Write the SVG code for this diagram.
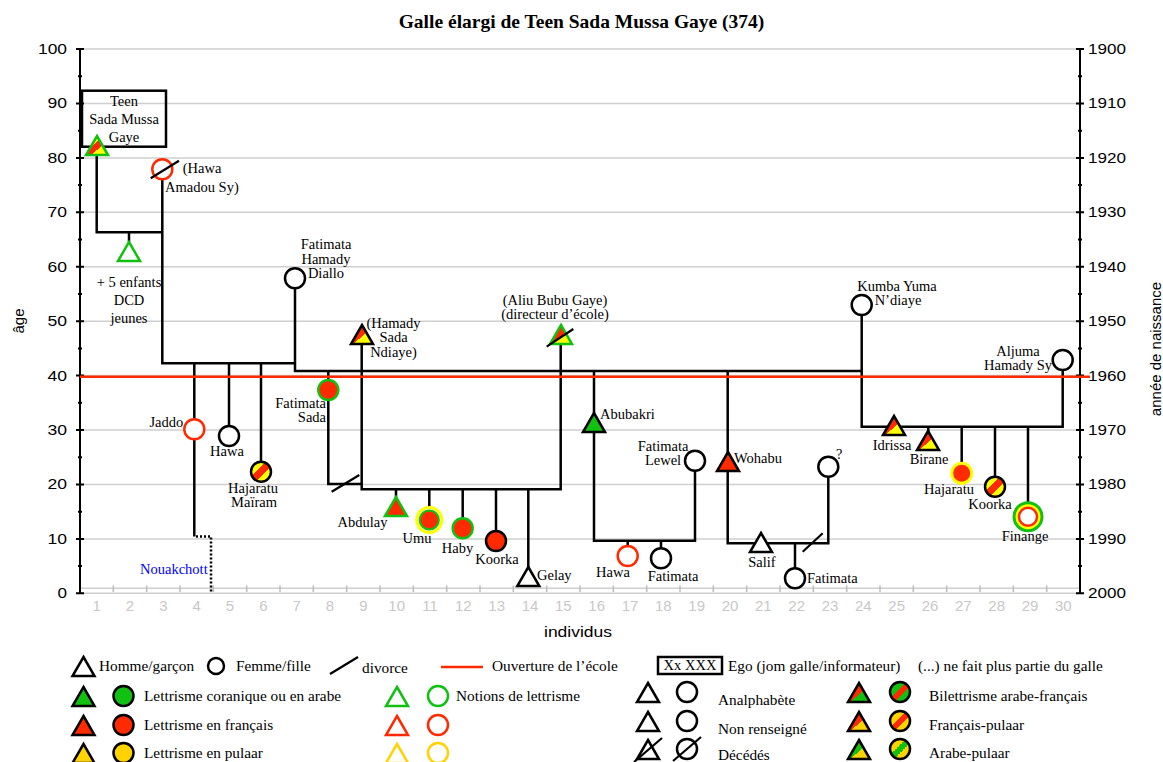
<svg xmlns="http://www.w3.org/2000/svg" xmlns:xlink="http://www.w3.org/1999/xlink" width="1163" height="762" viewBox="0 0 1163 762">
<style>
.ln{stroke:#000;stroke-width:2.5;fill:none}
.dv{stroke:#000;stroke-width:2.2;fill:none}
.grid{stroke:#cfcfcf;stroke-width:1.5}
.ax{stroke:#000;stroke-width:2}
.t{font-family:"Liberation Serif","Times New Roman",serif;font-size:14.5px;fill:#000}
.lg{font-size:15.3px}
.s{font-family:"Liberation Sans",Arial,sans-serif;font-size:15px;fill:#000}
.xl{font-family:"Liberation Sans",Arial,sans-serif;font-size:15px;fill:#c8c8c8;text-anchor:middle}
.m{text-anchor:middle}
.e{text-anchor:end}
.k{stroke:#000;stroke-width:2.5}
</style>
<defs>
<polygon id="tri" points="0,-10 11,9 -11,9"/>
<linearGradient id="gRY" x1="0" y1="0" x2="1" y2="1">
<stop offset="0" stop-color="#ffff00"/><stop offset="0.38" stop-color="#ffff00"/><stop offset="0.38" stop-color="#ff2a00"/><stop offset="0.62" stop-color="#ff2a00"/><stop offset="0.62" stop-color="#ffff00"/><stop offset="1" stop-color="#ffff00"/>
</linearGradient>
<linearGradient id="gTRY" x1="0" y1="0" x2="1" y2="1">
<stop offset="0" stop-color="#ff2a00"/><stop offset="0.55" stop-color="#ff2a00"/><stop offset="0.55" stop-color="#ffff00"/><stop offset="1" stop-color="#ffff00"/>
</linearGradient>
<linearGradient id="gTeen" x1="0" y1="0" x2="1" y2="1">
<stop offset="0" stop-color="#ffff00"/><stop offset="0.4" stop-color="#ffff00"/><stop offset="0.4" stop-color="#ff2a00"/><stop offset="0.62" stop-color="#ff2a00"/><stop offset="0.62" stop-color="#ffff00"/><stop offset="1" stop-color="#ffff00"/>
</linearGradient>
<linearGradient id="lTAF" x1="0" y1="0" x2="1" y2="1">
<stop offset="0" stop-color="#ff2a00"/><stop offset="0.55" stop-color="#ff2a00"/><stop offset="0.55" stop-color="#11c011"/><stop offset="1" stop-color="#11c011"/>
</linearGradient>
<linearGradient id="lCAF" x1="0" y1="0" x2="1" y2="1">
<stop offset="0" stop-color="#11c011"/><stop offset="0.4" stop-color="#11c011"/><stop offset="0.4" stop-color="#ff2a00"/><stop offset="0.6" stop-color="#ff2a00"/><stop offset="0.6" stop-color="#11c011"/><stop offset="1" stop-color="#11c011"/>
</linearGradient>
<linearGradient id="lTFP" x1="0" y1="0" x2="1" y2="1">
<stop offset="0" stop-color="#ff2a00"/><stop offset="0.55" stop-color="#ff2a00"/><stop offset="0.55" stop-color="#ffd200"/><stop offset="1" stop-color="#ffd200"/>
</linearGradient>
<linearGradient id="lCFP" x1="0" y1="0" x2="1" y2="1">
<stop offset="0" stop-color="#ffd200"/><stop offset="0.4" stop-color="#ffd200"/><stop offset="0.4" stop-color="#ff2a00"/><stop offset="0.6" stop-color="#ff2a00"/><stop offset="0.6" stop-color="#ffd200"/><stop offset="1" stop-color="#ffd200"/>
</linearGradient>
<linearGradient id="lTAP" x1="0" y1="0" x2="1" y2="1">
<stop offset="0" stop-color="#11c011"/><stop offset="0.55" stop-color="#11c011"/><stop offset="0.55" stop-color="#ffd200"/><stop offset="1" stop-color="#ffd200"/>
</linearGradient>
<linearGradient id="lCAP" x1="0" y1="0" x2="1" y2="1">
<stop offset="0" stop-color="#ffd200"/><stop offset="0.4" stop-color="#ffd200"/><stop offset="0.4" stop-color="#11c011"/><stop offset="0.6" stop-color="#11c011"/><stop offset="0.6" stop-color="#ffd200"/><stop offset="1" stop-color="#ffd200"/>
</linearGradient>
</defs>
<rect width="1163" height="762" fill="#fff"/>

<text x="581.5" y="28" class="m" font-family="Liberation Serif, serif" font-size="19.5" font-weight="bold">Galle élargi de Teen Sada Mussa Gaye (374)</text>

<g id="grid">
<line class="grid" x1="80" y1="49" x2="1080" y2="49"/>
<line class="grid" x1="80" y1="103.4" x2="1080" y2="103.4"/>
<line class="grid" x1="80" y1="157.9" x2="1080" y2="157.9"/>
<line class="grid" x1="80" y1="212.3" x2="1080" y2="212.3"/>
<line class="grid" x1="80" y1="266.7" x2="1080" y2="266.7"/>
<line class="grid" x1="80" y1="321.2" x2="1080" y2="321.2"/>
<line class="grid" x1="80" y1="375.6" x2="1080" y2="375.6"/>
<line class="grid" x1="80" y1="430" x2="1080" y2="430"/>
<line class="grid" x1="80" y1="484.4" x2="1080" y2="484.4"/>
<line class="grid" x1="80" y1="538.9" x2="1080" y2="538.9"/>
<line class="grid" x1="80" y1="588.3" x2="1080" y2="588.3"/>
<line class="grid" x1="80" y1="593.3" x2="1080" y2="593.3"/>
<path stroke="#bdbdbd" stroke-width="1.5" d="M113.3,585.5V592M146.7,585.5V592M180,585.5V592M213.3,585.5V592M246.7,585.5V592M280,585.5V592M313.3,585.5V592M346.7,585.5V592M380,585.5V592M413.3,585.5V592M446.7,585.5V592M480,585.5V592M513.3,585.5V592M546.7,585.5V592M580,585.5V592M613.3,585.5V592M646.7,585.5V592M680,585.5V592M713.3,585.5V592M746.7,585.5V592M780,585.5V592M813.3,585.5V592M846.7,585.5V592M880,585.5V592M913.3,585.5V592M946.7,585.5V592M980,585.5V592M1013.3,585.5V592M1046.7,585.5V592"/>
</g>

<g id="axes">
<line class="ax" x1="80" y1="49" x2="80" y2="594"/>
<line class="ax" x1="1080" y1="49" x2="1080" y2="594"/>
<path class="ax" d="M76,49H84M76,103.4H84M76,157.9H84M76,212.3H84M76,266.7H84M76,321.2H84M76,375.6H84M76,430H84M76,484.4H84M76,538.9H84M76,593.3H84M78,76.2H82M78,130.7H82M78,185.1H82M78,239.5H82M78,294H82M78,348.4H82M78,402.8H82M78,457.2H82M78,511.7H82M78,566.1H82"/>
<path class="ax" d="M1076,49H1084M1076,103.4H1084M1076,157.9H1084M1076,212.3H1084M1076,266.7H1084M1076,321.2H1084M1076,375.6H1084M1076,430H1084M1076,484.4H1084M1076,538.9H1084M1076,593.3H1084M1078,76.2H1082M1078,130.7H1082M1078,185.1H1082M1078,239.5H1082M1078,294H1082M1078,348.4H1082M1078,402.8H1082M1078,457.2H1082M1078,511.7H1082M1078,566.1H1082"/>
<g class="s e">
<text x="67" y="54" textLength="29" lengthAdjust="spacingAndGlyphs">100</text>
<text x="67" y="108.4" textLength="19.5" lengthAdjust="spacingAndGlyphs">90</text>
<text x="67" y="162.9" textLength="19.5" lengthAdjust="spacingAndGlyphs">80</text>
<text x="67" y="217.3" textLength="19.5" lengthAdjust="spacingAndGlyphs">70</text>
<text x="67" y="271.7" textLength="19.5" lengthAdjust="spacingAndGlyphs">60</text>
<text x="67" y="326.2" textLength="19.5" lengthAdjust="spacingAndGlyphs">50</text>
<text x="67" y="380.6" textLength="19.5" lengthAdjust="spacingAndGlyphs">40</text>
<text x="67" y="435" textLength="19.5" lengthAdjust="spacingAndGlyphs">30</text>
<text x="67" y="489.4" textLength="19.5" lengthAdjust="spacingAndGlyphs">20</text>
<text x="67" y="543.9" textLength="19.5" lengthAdjust="spacingAndGlyphs">10</text>
<text x="67" y="598.3" textLength="9.5" lengthAdjust="spacingAndGlyphs">0</text>
</g>
<g class="s">
<text x="1088" y="54" textLength="38" lengthAdjust="spacingAndGlyphs">1900</text>
<text x="1088" y="108.4" textLength="38" lengthAdjust="spacingAndGlyphs">1910</text>
<text x="1088" y="162.9" textLength="38" lengthAdjust="spacingAndGlyphs">1920</text>
<text x="1088" y="217.3" textLength="38" lengthAdjust="spacingAndGlyphs">1930</text>
<text x="1088" y="271.7" textLength="38" lengthAdjust="spacingAndGlyphs">1940</text>
<text x="1088" y="326.2" textLength="38" lengthAdjust="spacingAndGlyphs">1950</text>
<text x="1088" y="380.6" textLength="38" lengthAdjust="spacingAndGlyphs">1960</text>
<text x="1088" y="435" textLength="38" lengthAdjust="spacingAndGlyphs">1970</text>
<text x="1088" y="489.4" textLength="38" lengthAdjust="spacingAndGlyphs">1980</text>
<text x="1088" y="543.9" textLength="38" lengthAdjust="spacingAndGlyphs">1990</text>
<text x="1088" y="598.3" textLength="38" lengthAdjust="spacingAndGlyphs">2000</text>
</g>
<g class="xl">
<text x="96.7" y="611">1</text><text x="130" y="611">2</text><text x="163.3" y="611">3</text><text x="196.7" y="611">4</text><text x="230" y="611">5</text><text x="263.3" y="611">6</text><text x="296.7" y="611">7</text><text x="330" y="611">8</text><text x="363.3" y="611">9</text><text x="396.7" y="611">10</text><text x="430" y="611">11</text><text x="463.3" y="611">12</text><text x="496.7" y="611">13</text><text x="530" y="611">14</text><text x="563.3" y="611">15</text><text x="596.7" y="611">16</text><text x="630" y="611">17</text><text x="663.3" y="611">18</text><text x="696.7" y="611">19</text><text x="730" y="611">20</text><text x="763.3" y="611">21</text><text x="796.7" y="611">22</text><text x="830" y="611">23</text><text x="863.3" y="611">24</text><text x="896.7" y="611">25</text><text x="930" y="611">26</text><text x="963.3" y="611">27</text><text x="996.7" y="611">28</text><text x="1030" y="611">29</text><text x="1063.3" y="611">30</text>
</g>
<text class="s m" x="578" y="637" textLength="68" lengthAdjust="spacingAndGlyphs">individus</text>
<text class="s m" transform="translate(24,321) rotate(-90)" font-size="14">âge</text>
<text class="s m" transform="translate(1161,349) rotate(-90)" font-size="14">année de naissance</text>
</g>

<g id="connectors">
<path class="ln" d="M96.7,155V232.3H162.3"/>
<path class="ln" d="M129,232.3V242"/>
<path class="ln" d="M162.3,180V363.3H295"/>
<path class="ln" d="M295,288V371H861.7"/>
<path class="ln" d="M194.3,363.3V536.5"/>
<path class="ln" d="M196,536.5H211V593" stroke-dasharray="2 2" stroke-width="2"/>
<path class="ln" d="M229,363.3V426"/>
<path class="ln" d="M261,363.3V462"/>
<path class="ln" d="M328.3,371V484H361.7"/>
<path class="ln" d="M361.7,344V489.3H560.7V345"/>
<path class="ln" d="M396,489.3V498M429.3,489.3V508M462.7,489.3V518M496,489.3V531M528.3,489.3V568"/>
<path class="ln" d="M594,371V540.7H695V470.7"/>
<path class="ln" d="M627.7,540.7V546M661,540.7V548.3"/>
<path class="ln" d="M727.7,371V543.3H828.3V476.7"/>
<path class="ln" d="M795,543.3V568.3"/>
<path class="ln" d="M861.7,315V426.7H1062.7V370"/>
<path class="ln" d="M928.3,426.7V432M961.7,426.7V463M995,426.7V476.7M1028,426.7V502"/>
<path class="dv" d="M331.7,491.7L359.3,475"/>
<path class="dv" d="M802.7,551.7L822.7,533.3"/>
</g>

<line id="ecole" x1="80" y1="376.8" x2="1090" y2="376.8" stroke="#ff2a00" stroke-width="2.5"/>

<g id="n1">
<rect x="82" y="90.7" width="84" height="56" fill="none" stroke="#000" stroke-width="2.5"/>
<use href="#tri" x="97" y="146" fill="url(#gTeen)" stroke="#11c011" stroke-width="2.5"/>
<text class="t m" x="124" y="105.7">Teen</text>
<text class="t m" x="124" y="124.3">Sada Mussa</text>
<text class="t m" x="124" y="142.3">Gaye</text>
</g>
<g id="n2">
<use href="#tri" x="129" y="252" fill="#fff" stroke="#11c011" stroke-width="2.5"/>
<text class="t m" x="129" y="287">+ 5 enfants</text>
<text class="t m" x="129" y="305">DCD</text>
<text class="t m" x="129" y="323">jeunes</text>
</g>
<g id="n3">
<circle cx="162.3" cy="169.3" r="10" fill="#fff" stroke="#ff2a00" stroke-width="2.5"/>
<path class="dv" d="M150.7,178.3L179,160.7"/>
<text class="t" x="182.7" y="172.7">(Hawa</text>
<text class="t" x="165" y="191.7">Amadou Sy)</text>
</g>
<g id="n4">
<circle cx="194.3" cy="429.3" r="10" fill="#fff" stroke="#ff2a00" stroke-width="2.5"/>
<text class="t e" x="183.3" y="427.3">Jaddo</text>
<text class="t e" x="207.7" y="574" style="fill:#0000ff">Nouakchott</text>
</g>
<g id="n5">
<circle cx="229" cy="436" r="10" fill="#fff" class="k"/>
<text class="t m" x="227" y="456">Hawa</text>
</g>
<g id="n6">
<circle cx="261" cy="471.7" r="10" fill="url(#gRY)" class="k"/>
<text class="t m" x="253" y="493">Hajaratu</text>
<text class="t m" x="254" y="507">Maïram</text>
</g>
<g id="n7">
<circle cx="295" cy="278.3" r="10" fill="#fff" class="k"/>
<text class="t m" x="326" y="249.3">Fatimata</text>
<text class="t m" x="326" y="264">Hamady</text>
<text class="t m" x="326" y="278.3">Diallo</text>
</g>
<g id="n8">
<circle cx="328.3" cy="390" r="10" fill="#ff2a00" stroke="#11c011" stroke-width="2.5"/>
<text class="t e" x="326" y="408">Fatimata</text>
<text class="t e" x="326" y="422">Sada</text>
</g>
<g id="n9">
<use href="#tri" x="362" y="335" fill="url(#gTRY)" class="k"/>
<text class="t m" x="393.5" y="328">(Hamady</text>
<text class="t m" x="393.5" y="342">Sada</text>
<text class="t m" x="393.5" y="356.5">Ndiaye)</text>
</g>
<g id="n10">
<use href="#tri" x="396" y="507" fill="#ff2a00" stroke="#11c011" stroke-width="2.5"/>
<text class="t m" x="362.5" y="527">Abdulay</text>
</g>
<g id="n11">
<circle cx="429.3" cy="520" r="12.5" fill="none" stroke="#ffff00" stroke-width="3"/>
<circle cx="429.3" cy="520" r="9.5" fill="#ff2a00" stroke="#11c011" stroke-width="2.2"/>
<text class="t m" x="417" y="543">Umu</text>
</g>
<g id="n12">
<circle cx="462.7" cy="528.3" r="10" fill="#ff2a00" stroke="#11c011" stroke-width="2.5"/>
<text class="t m" x="457.5" y="553">Haby</text>
</g>
<g id="n13">
<circle cx="496" cy="541" r="10" fill="#ff2a00" class="k"/>
<text class="t m" x="497" y="564">Koorka</text>
</g>
<g id="n14">
<use href="#tri" x="528.3" y="577" fill="#fff" class="k"/>
<text class="t" x="537" y="580">Gelay</text>
</g>
<g id="n15">
<use href="#tri" x="561" y="335" fill="url(#gTRY)" stroke="#11c011" stroke-width="2.5"/>
<path class="dv" d="M546.7,346.7L573.3,329"/>
<text class="t m" x="555" y="305">(Aliu Bubu Gaye)</text>
<text class="t m" x="555" y="319">(directeur d’école)</text>
</g>
<g id="n16">
<use href="#tri" x="594" y="423" fill="#11c011" class="k"/>
<text class="t" x="600" y="419">Abubakri</text>
</g>
<g id="n17">
<circle cx="627.7" cy="556" r="10" fill="#fff" stroke="#ff2a00" stroke-width="2.5"/>
<text class="t m" x="613" y="577">Hawa</text>
</g>
<g id="n18">
<circle cx="661" cy="558.3" r="10" fill="#fff" class="k"/>
<text class="t m" x="673" y="581">Fatimata</text>
</g>
<g id="n19">
<circle cx="695" cy="460.7" r="10" fill="#fff" class="k"/>
<text class="t m" x="663" y="451">Fatimata</text>
<text class="t m" x="663" y="465">Lewel</text>
</g>
<g id="n20">
<use href="#tri" x="728" y="462" fill="#ff2a00" class="k"/>
<text class="t" x="734" y="463">Wohabu</text>
</g>
<g id="n21">
<use href="#tri" x="761" y="543" fill="#fff" class="k"/>
<text class="t m" x="762" y="567">Salif</text>
</g>
<g id="n22">
<circle cx="795" cy="578.3" r="10" fill="#fff" class="k"/>
<text class="t" x="807" y="583">Fatimata</text>
</g>
<g id="n23">
<circle cx="828.3" cy="466.7" r="10" fill="#fff" class="k"/>
<text class="t" x="836" y="459" font-size="13">?</text>
</g>
<g id="n24">
<circle cx="861.7" cy="305" r="10" fill="#fff" class="k"/>
<text class="t m" x="897" y="291">Kumba Yuma</text>
<text class="t m" x="898" y="305">N’diaye</text>
</g>
<g id="n25">
<use href="#tri" x="894" y="426" fill="url(#gTRY)" class="k"/>
<text class="t m" x="892" y="450">Idrissa</text>
</g>
<g id="n26">
<use href="#tri" x="928" y="441" fill="url(#gTRY)" class="k"/>
<text class="t m" x="929" y="464">Birane</text>
</g>
<g id="n27">
<circle cx="961.7" cy="473.3" r="10" fill="#ff2a00" stroke="#ffff00" stroke-width="3"/>
<text class="t m" x="949" y="494">Hajaratu</text>
</g>
<g id="n28">
<circle cx="995" cy="486.7" r="10" fill="url(#gRY)" class="k"/>
<text class="t m" x="990" y="509">Koorka</text>
</g>
<g id="n29">
<circle cx="1028" cy="516.7" r="14" fill="#ffff00" stroke="#11c011" stroke-width="3"/>
<circle cx="1028" cy="516.7" r="9" fill="#fff" stroke="#ff2a00" stroke-width="2.5"/>
<text class="t m" x="1025" y="541">Finange</text>
</g>
<g id="n30">
<circle cx="1062.7" cy="360" r="10" fill="#fff" class="k"/>
<text class="t m" x="1018" y="356">Aljuma</text>
<text class="t m" x="1018" y="370">Hamady Sy</text>
</g>

<g id="legend">
<use href="#tri" x="83.5" y="667" fill="#fff" class="k"/>
<text class="t lg" x="99" y="671">Homme/garçon</text>
<circle cx="216" cy="666" r="8" fill="#fff" class="k"/>
<text class="t lg" x="236" y="671">Femme/fille</text>
<path class="dv" d="M330,674L358,657"/>
<text class="t lg" x="362" y="673">divorce</text>
<line x1="441" y1="667" x2="483" y2="667" stroke="#ff2a00" stroke-width="2.5"/>
<text class="t lg" x="492" y="671">Ouverture de l’école</text>
<rect x="658" y="657" width="64" height="17" fill="none" stroke="#000" stroke-width="2.5"/>
<text class="t m" x="690" y="670" font-size="12.5">Xx XXX</text>
<text class="t lg" x="728" y="671">Ego (jom galle/informateur)</text>
<text class="t lg" x="918" y="671">(...) ne fait plus partie du galle</text>

<use href="#tri" x="83.5" y="697" fill="#11c011" class="k"/>
<circle cx="123.5" cy="696" r="10" fill="#11c011" class="k"/>
<text class="t lg" x="144" y="701">Lettrisme coranique ou en arabe</text>
<use href="#tri" x="83.5" y="726" fill="#ff2a00" class="k"/>
<circle cx="123.5" cy="725" r="10" fill="#ff2a00" class="k"/>
<text class="t lg" x="144" y="730">Lettrisme en français</text>
<use href="#tri" x="83.5" y="754" fill="#ffd200" class="k"/>
<circle cx="123.5" cy="753" r="10" fill="#ffd200" class="k"/>
<text class="t lg" x="144" y="758">Lettrisme en pulaar</text>

<use href="#tri" x="397" y="697" fill="#fff" stroke="#11c011" stroke-width="2.5"/>
<circle cx="438" cy="696" r="10" fill="#fff" stroke="#11c011" stroke-width="2.5"/>
<text class="t lg" x="456" y="701">Notions de lettrisme</text>
<use href="#tri" x="397" y="726" fill="#fff" stroke="#ff2a00" stroke-width="2.5"/>
<circle cx="438" cy="725" r="10" fill="#fff" stroke="#ff2a00" stroke-width="2.5"/>
<use href="#tri" x="397" y="754" fill="#fff" stroke="#ffd200" stroke-width="2.5"/>
<circle cx="438" cy="753" r="10" fill="#fff" stroke="#ffd200" stroke-width="2.5"/>

<use href="#tri" x="648" y="693" fill="#fff" class="k"/>
<circle cx="687" cy="692" r="10" fill="#fff" class="k"/>
<text class="t lg" x="718" y="705">Analphabète</text>
<use href="#tri" x="648" y="722" fill="#fff" class="k"/>
<circle cx="687" cy="721" r="10" fill="#fff" class="k"/>
<text class="t lg" x="718" y="734">Non renseigné</text>
<use href="#tri" x="648" y="750" fill="#fff" class="k"/>
<path class="dv" d="M634,762L662,738"/>
<circle cx="687" cy="749" r="10" fill="#fff" class="k"/>
<path class="dv" d="M673,761L701,737"/>
<text class="t lg" x="718" y="760">Décédés</text>

<use href="#tri" x="859" y="693" fill="url(#lTAF)" class="k"/>
<circle cx="900" cy="692" r="10" fill="url(#lCAF)" class="k"/>
<text class="t lg" x="929" y="701">Bilettrisme arabe-français</text>
<use href="#tri" x="859" y="722" fill="url(#lTFP)" class="k"/>
<circle cx="900" cy="721" r="10" fill="url(#lCFP)" class="k"/>
<text class="t lg" x="929" y="730">Français-pulaar</text>
<use href="#tri" x="859" y="750" fill="url(#lTAP)" class="k"/>
<circle cx="900" cy="749" r="10" fill="url(#lCAP)" class="k"/>
<text class="t lg" x="929" y="758">Arabe-pulaar</text>
</g>
</svg>
